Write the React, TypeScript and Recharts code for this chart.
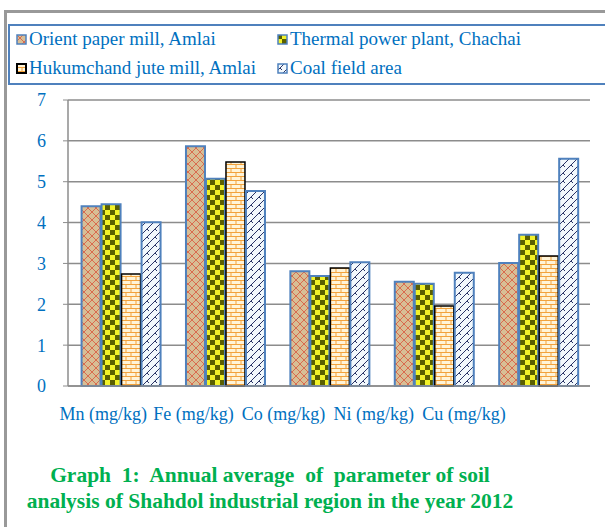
import { BarChart, Bar, XAxis, YAxis, CartesianGrid } from 'recharts';

const categories = ['Mn (mg/kg)', 'Fe (mg/kg)', 'Co (mg/kg)', 'Ni (mg/kg)', 'Cu (mg/kg)'];
const orientPaper = [4.4, 5.87, 2.81, 2.55, 3.01];
const thermalPlant = [4.45, 5.07, 2.69, 2.5, 3.7];
const hukumchandJute = [2.74, 5.48, 2.89, 1.96, 3.18];
const coalField = [4.01, 4.77, 3.03, 2.77, 5.56];
const yTicks = [0, 1, 2, 3, 4, 5, 6, 7];

const seriesNames = [
  'Orient paper mill, Amlai',
  'Thermal power plant, Chachai',
  'Hukumchand jute mill, Amlai',
  'Coal field area',
];

const data = categories.map((name, i) => ({
  name,
  orient: orientPaper[i],
  thermal: thermalPlant[i],
  hukum: hukumchandJute[i],
  coal: coalField[i],
}));

const blue = '#0070C0';
const fontFam = '"Liberation Serif"';

const fills = ['url(#pOrient)', 'url(#pThermal)', 'url(#pHukum)', 'url(#pCoal)'];
const iconBorders = ['#4F81BD', '#4F81BD', '#000000', '#4F81BD'];

const LegendItem = ({ idx, left, top }: { idx: number; left: number; top: number }) => (
  <div style={{ position: 'absolute', left, top, display: 'flex', alignItems: 'center' }}>
    <svg width={11} height={11} style={{ marginRight: 2 }}>
      <rect x={1} y={1} width={9} height={9} fill={fills[idx]} stroke={iconBorders[idx]} strokeWidth={idx === 2 ? 2 : 1.5} />
    </svg>
    <span style={{ fontFamily: fontFam, fontSize: 19, color: blue, whiteSpace: 'nowrap' }}>{seriesNames[idx]}</span>
  </div>
);

// Excel squeezed the category labels leftwards; follow that
const CategoryTick = (props: any) => {
  const { x, y, payload, index } = props;
  const shift = -17 - 14.2 * index;
  return (
    <text x={x + shift} y={y + 26} textAnchor="middle" style={{ fontFamily: fontFam }} fontSize={18} fill={blue}>
      {payload.value}
    </text>
  );
};

export default function App() {
  return (
    <div style={{ position: 'fixed', left: 0, top: 0, width: 605, height: 527, background: '#fff', overflow: 'hidden', fontFamily: fontFam }}>
      <div style={{ position: 'absolute', left: 4, top: 10, width: 700, height: 600, border: '3px solid #999' }} />
      <div style={{ position: 'absolute', left: 8, top: 24, width: 700, height: 57, border: '2px solid #4F81BD' }} />
      <LegendItem idx={0} left={16} top={28} />
      <LegendItem idx={1} left={277} top={28} />
      <LegendItem idx={2} left={16} top={57} />
      <LegendItem idx={3} left={277} top={57} />
      <div style={{ position: 'absolute', left: 0, top: 0 }}>
        <BarChart
          width={605}
          height={430}
          data={data}
          margin={{ top: 100, right: 15, bottom: 0, left: 0 }}
          barCategoryGap="13%"
          barGap={1}
        >
          <defs>
            <pattern id="pOrient" width="8" height="8" patternUnits="userSpaceOnUse">
              <rect width="8" height="8" fill="#D8BE95" />
              <path d="M0,0 L8,8 M8,0 L0,8" stroke="#D9553C" strokeWidth="0.8" />
            </pattern>
            <pattern id="pThermal" width="10" height="10" patternUnits="userSpaceOnUse">
              <rect width="10" height="10" fill="#F2F22A" />
              <rect x="0" y="0" width="5" height="5" fill="#5A5F00" />
              <rect x="5" y="5" width="5" height="5" fill="#5A5F00" />
            </pattern>
            <pattern id="pHukum" width="10" height="8" patternUnits="userSpaceOnUse">
              <rect width="10" height="8" fill="#FFF4D8" />
              <path d="M0,0.5 L10,0.5 M0,4.5 L10,4.5 M1,0 L1,4.5 M6,4.5 L6,8" stroke="#F2A23C" strokeWidth="1" />
            </pattern>
            <pattern id="pCoal" width="8" height="8" patternUnits="userSpaceOnUse">
              <rect width="8" height="8" fill="#F2F8FC" />
              <path d="M0,8 L3,5 L5,7 M3,5 L8,0" stroke="#2A3466" strokeWidth="1" fill="none" />
            </pattern>
          </defs>
          <CartesianGrid vertical={false} stroke="#8C8C8C" strokeWidth={1.5} />
          <XAxis
            dataKey="name"
            height={44}
            tickLine={false}
            axisLine={{ stroke: '#8C8C8C', strokeWidth: 1.5 }}
            tick={<CategoryTick />}
            interval={0}
          />
          <YAxis
            width={68}
            domain={[0, 7]}
            ticks={yTicks}
            interval={0}
            tickSize={5}
            tickMargin={17}
            tickLine={{ stroke: '#8C8C8C' }}
            axisLine={{ stroke: '#8C8C8C', strokeWidth: 1.5 }}
            tick={{ fill: blue, fontFamily: 'Liberation Serif', fontSize: 18 }}
          />
          <Bar dataKey="orient" fill="url(#pOrient)" stroke="#4F81BD" strokeWidth={2} isAnimationActive={false} />
          <Bar dataKey="thermal" fill="url(#pThermal)" stroke="#4F81BD" strokeWidth={2} isAnimationActive={false} />
          <Bar dataKey="hukum" fill="url(#pHukum)" stroke="#000000" strokeWidth={1.5} isAnimationActive={false} />
          <Bar dataKey="coal" fill="url(#pCoal)" stroke="#4F81BD" strokeWidth={2} isAnimationActive={false} />
        </BarChart>
      </div>
      <div
        style={{
          position: 'absolute',
          left: 0,
          top: 462,
          width: 540,
          textAlign: 'center',
          fontFamily: fontFam,
          fontWeight: 'bold',
          fontSize: 21.5,
          lineHeight: '26px',
          color: '#00B050',
        }}
      >
        Graph&nbsp; 1:&nbsp; Annual average&nbsp; of&nbsp; parameter of soil
        <br />
        analysis of Shahdol industrial region in the year 2012
      </div>
    </div>
  );
}
